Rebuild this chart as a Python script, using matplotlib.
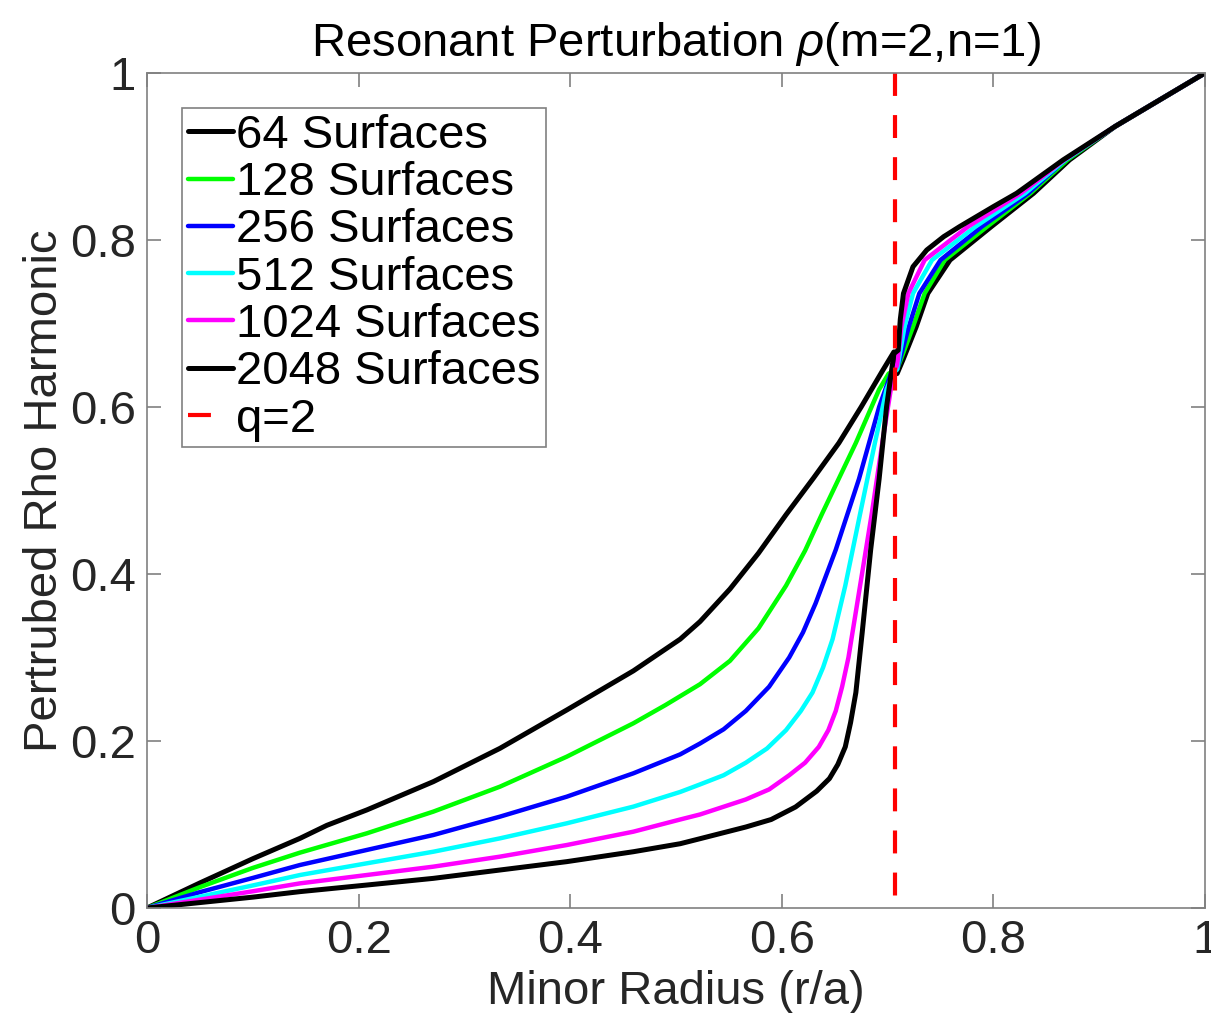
import matplotlib
matplotlib.use("Agg")
import matplotlib.pyplot as plt
from matplotlib.lines import Line2D

plt.rcParams['font.family'] = ['Liberation Sans', 'DejaVu Sans']
plt.rcParams['mathtext.fontset'] = 'custom'
plt.rcParams['mathtext.it'] = 'Liberation Sans:italic'
plt.rcParams['mathtext.rm'] = 'Liberation Sans'

# ---------------- data ----------------
labels = ["64 Surfaces", "128 Surfaces", "256 Surfaces", "512 Surfaces",
          "1024 Surfaces", "2048 Surfaces", "q=2"]

r_64 = [0, 0.05, 0.10, 0.1446, 0.17, 0.2077, 0.2706, 0.3336, 0.3967, 0.4597, 0.504, 0.5227,
        0.551, 0.578, 0.604, 0.630, 0.654, 0.675, 0.695, 0.706,
        0.709, 0.715, 0.727, 0.738, 0.759, 0.798, 0.838, 0.872, 0.915, 1.0]
v_64 = [0, 0.030, 0.059, 0.0834, 0.099, 0.1174, 0.1513, 0.1912, 0.2371, 0.284, 0.322, 0.343,
        0.382, 0.425, 0.471, 0.515, 0.557, 0.600, 0.643, 0.666,
        0.640, 0.658, 0.696, 0.736, 0.776, 0.816, 0.856, 0.896, 0.936, 1.0]

r_128 = [0, 0.05, 0.10, 0.1446, 0.2077, 0.2706, 0.3336, 0.3967, 0.4597, 0.49, 0.5227,
         0.551, 0.578, 0.604, 0.622, 0.638, 0.670, 0.692, 0.701,
         0.709, 0.724, 0.735, 0.754, 0.794, 0.835, 0.870, 0.915, 1.0]
v_128 = [0, 0.025, 0.048, 0.0663, 0.0894, 0.1154, 0.1453, 0.1812, 0.2212, 0.243, 0.268,
         0.296, 0.335, 0.386, 0.428, 0.472, 0.557, 0.621, 0.640,
         0.645, 0.696, 0.736, 0.776, 0.816, 0.856, 0.896, 0.936, 1.0]

r_256 = [0, 0.05, 0.10, 0.1446, 0.2077, 0.2706, 0.3336, 0.3967, 0.4597, 0.504, 0.5227,
         0.545, 0.566, 0.588, 0.607, 0.620, 0.632, 0.651, 0.673, 0.692, 0.704,
         0.709, 0.720, 0.730, 0.750, 0.789, 0.833, 0.868, 0.915, 1.0]
v_256 = [0, 0.019, 0.036, 0.0515, 0.0695, 0.0874, 0.1094, 0.1333, 0.1613, 0.184, 0.197,
         0.214, 0.236, 0.265, 0.300, 0.330, 0.365, 0.429, 0.514, 0.600, 0.643,
         0.645, 0.696, 0.736, 0.776, 0.816, 0.856, 0.896, 0.936, 1.0]

r_512 = [0, 0.05, 0.10, 0.1446, 0.2077, 0.2706, 0.3336, 0.3967, 0.4597, 0.504, 0.5227,
         0.545, 0.566, 0.586, 0.604, 0.618, 0.629, 0.639, 0.648, 0.660, 0.674, 0.688, 0.699, 0.705,
         0.709, 0.716, 0.724, 0.742, 0.783, 0.830, 0.868, 0.915, 1.0]
v_512 = [0, 0.0135, 0.027, 0.0395, 0.0535, 0.0674, 0.0834, 0.1014, 0.1214, 0.139, 0.148,
         0.159, 0.174, 0.191, 0.213, 0.236, 0.258, 0.288, 0.322, 0.386, 0.472, 0.557, 0.621, 0.640,
         0.645, 0.696, 0.736, 0.776, 0.816, 0.856, 0.896, 0.936, 1.0]

r_1024 = [0, 0.05, 0.10, 0.1446, 0.2077, 0.2706, 0.3336, 0.3967, 0.4597, 0.504, 0.5227,
          0.566, 0.588, 0.607, 0.622, 0.635, 0.644, 0.651, 0.657, 0.663, 0.674, 0.685, 0.695,
          0.703, 0.707,
          0.709, 0.713, 0.7196, 0.735, 0.776, 0.826, 0.867, 0.915, 1.0]
v_1024 = [0, 0.010, 0.020, 0.0295, 0.0395, 0.0495, 0.0615, 0.0754, 0.0914, 0.106, 0.112,
          0.130, 0.142, 0.159, 0.174, 0.193, 0.213, 0.236, 0.265, 0.300, 0.386, 0.472, 0.557,
          0.621, 0.645,
          0.650, 0.696, 0.736, 0.776, 0.816, 0.856, 0.896, 0.936, 1.0]

r_2048 = [0, 0.05, 0.10, 0.1446, 0.2077, 0.2706, 0.3336, 0.3967, 0.4597, 0.504, 0.5227,
          0.566, 0.59, 0.613, 0.633, 0.645, 0.653, 0.660, 0.665, 0.670, 0.676, 0.684, 0.692,
          0.699, 0.706,
          0.710, 0.712, 0.715, 0.724, 0.737, 0.753, 0.768, 0.800, 0.822, 0.866, 0.915, 1.0]
v_2048 = [0, 0.0065, 0.013, 0.0196, 0.0275, 0.0355, 0.0455, 0.0555, 0.0674, 0.077, 0.083,
          0.097, 0.106, 0.121, 0.140, 0.155, 0.172, 0.193, 0.222, 0.258, 0.330, 0.429, 0.514,
          0.600, 0.664,
          0.668, 0.705, 0.736, 0.768, 0.788, 0.804, 0.816, 0.840, 0.856, 0.896, 0.936, 1.0]

q2_radius = 0.7071

series_r = [r_64, r_128, r_256, r_512, r_1024, r_2048]
series_v = [v_64, v_128, v_256, v_512, v_1024, v_2048]
colors = ["#000000", "#00ff00", "#0000ff", "#00ffff", "#ff00ff", "#000000"]

# ---------------- figure ----------------
W, H = 1211, 1013
fig = plt.figure(figsize=(W / 100, H / 100), dpi=100)
ax = fig.add_axes([147 / W, (H - 908) / H, (1205 - 147) / W, (908 - 73) / H])

FS = 34
gray = "#808080"
txt = "#262626"

handles = []
for r, v, c, lab in zip(series_r, series_v, colors, labels[:6]):
    lw = 3.6 if c == "#000000" else 3.2
    h, = ax.plot(r, v, color=c, lw=lw, label=lab, solid_joinstyle='round',
                 solid_capstyle='round')
    handles.append(h)

ax.plot([q2_radius, q2_radius], [1, 0], color="#ff0000", lw=3.0, dashes=(5.5, 4.6))
handles.append(Line2D([], [], color="#ff0000", lw=3.0, dashes=(5.5, 8)))

ax.set_xlim(0, 1)
ax.set_ylim(0, 1)
ticks = [0, 0.2, 0.4, 0.6, 0.8, 1]
tick_labels = ["0", "0.2", "0.4", "0.6", "0.8", "1"]
ax.set_xticks(ticks)
ax.set_xticklabels(tick_labels)
ax.set_yticks(ticks)
ax.set_yticklabels(tick_labels)
ax.tick_params(direction='in', length=10, width=1.2, color=gray, labelcolor=txt,
               labelsize=FS, top=True, right=True, pad=8)
for s in ax.spines.values():
    s.set_color(gray)
    s.set_linewidth(1.2)

ax.set_title(r"Resonant Perturbation $\rho$(m=2,n=1)", fontsize=FS, color="black", pad=12)
ax.set_xlabel("Minor Radius (r/a)", fontsize=FS, color=txt, labelpad=5)
ax.set_ylabel("Pertrubed Rho Harmonic", fontsize=FS, color=txt, labelpad=2)

leg = ax.legend(handles=handles, labels=labels, loc='upper left',
                bbox_to_anchor=(0.0331, 0.958),
                borderaxespad=0, fontsize=FS, handlelength=0.95, handletextpad=0.08,
                labelspacing=0.07, borderpad=0.12, fancybox=False, framealpha=1,
                edgecolor=gray)
leg.get_frame().set_linewidth(1.2)
for t in leg.get_texts():
    t.set_color("black")

fig.savefig("out.png", dpi=100)
